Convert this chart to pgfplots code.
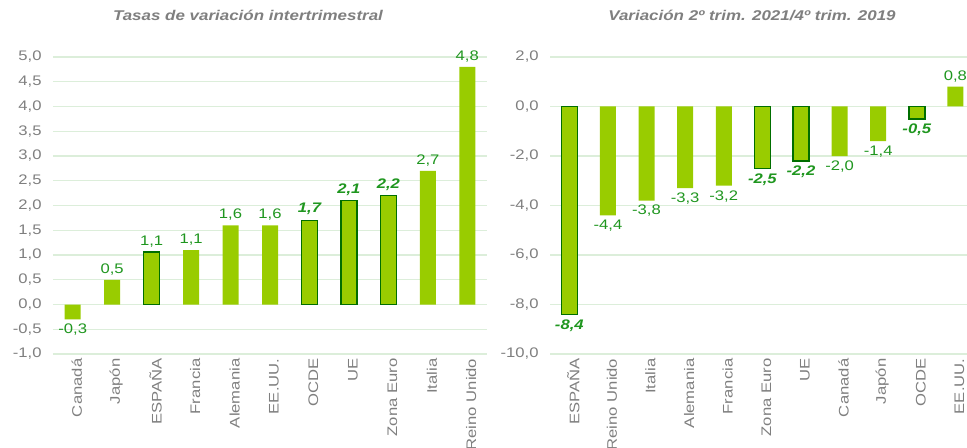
\documentclass[border=0pt]{standalone}
\usepackage{pgfplots}
\pgfplotsset{compat=1.18}
\usepackage{fontspec}
\setmainfont{Liberation Sans}[FakeStretch=1.2]

\definecolor{barfill}{HTML}{99CC00}
\definecolor{baredge}{HTML}{006E00}
\definecolor{lblgreen}{HTML}{1F961F}
\definecolor{txtgray}{HTML}{7F7F7F}
\definecolor{gridgreen}{HTML}{DCEEDA}

\newcommand{\lblfont}{\fontsize{10.4}{12}\selectfont}

\pgfplotsset{
  gdpbars/.style={
    scale only axis,
    ybar, bar width=12pt, bar shift=0pt,
    axis line style={draw=none},
    major tick length=0pt,
    ymajorgrids, grid style={gridgreen, line width=0.8pt},
    xtick={0,...,10},
    xmin=-0.5,
    xticklabel style={rotate=90, anchor=east, font=\lblfont, text=txtgray, yshift=-3pt},
    yticklabel style={font=\lblfont, text=txtgray, xshift=-5pt},
    /pgf/number format/.cd, use comma, fixed, fixed zerofill, precision=1, assume math mode=true,
    /pgfplots/.cd,
    nodes near coords,
    nodes near coords style={font=\lblfont, text=lblgreen},
  },
  plainbar/.style={fill=barfill, draw=none},
  markbar/.style={fill=barfill, draw=baredge, line width=1.2pt},
  boldlbl/.style={nodes near coords style={font=\lblfont\bfseries\itshape, text=lblgreen}},
}

\begin{document}
\begin{tikzpicture}
% left: quarter-on-quarter rates
\begin{axis}[gdpbars,
  at={(39.75pt,69.75pt)}, anchor=south west,
  width=325.5pt, height=222.75pt,
  xmax=10.5, ymin=-1, ymax=5, ytick={-1,-0.5,...,5},
  xticklabels={Canadá,Japón,ESPAÑA,Francia,Alemania,EE.UU.,OCDE,UE,Zona Euro,Italia,Reino Unido},
]
\addplot[plainbar] coordinates {(0,-0.3) (1,0.5) (3,1.1) (4,1.6) (5,1.6) (9,2.7) (10,4.8)};
\addplot[markbar] coordinates {(2,1.06)};
\addplot[markbar, boldlbl] coordinates {(6,1.7) (7,2.1) (8,2.2)};
\end{axis}

% right: 2Q 2021 vs 4Q 2019
\begin{axis}[gdpbars,
  at={(412.5pt,69.75pt)}, anchor=south west,
  width=312.75pt, height=222.75pt,
  xmax=10.3, ymin=-10, ymax=2, ytick={-10,-8,...,2},
  xticklabels={ESPAÑA,Reino Unido,Italia,Alemania,Francia,Zona Euro,UE,Canadá,Japón,OCDE,EE.UU.},
]
\addplot[plainbar] coordinates {(1,-4.4) (2,-3.8) (3,-3.3) (4,-3.2) (7,-2.0) (8,-1.4) (10,0.8)};
\addplot[markbar, boldlbl] coordinates {(0,-8.4) (5,-2.5) (6,-2.2) (9,-0.5)};
\end{axis}

\node[font=\fontsize{10.6}{12}\selectfont\bfseries\itshape, text=txtgray] at (186pt,324pt) {Tasas de variación intertrimestral};
\node[font=\fontsize{10.6}{12}\selectfont\bfseries\itshape, text=txtgray] at (564pt,324pt) {Variación 2º trim. 2021/4º trim. 2019};

\pgfresetboundingbox
\useasboundingbox (0,0) rectangle (725.25pt,335.25pt);
\end{tikzpicture}
\end{document}
